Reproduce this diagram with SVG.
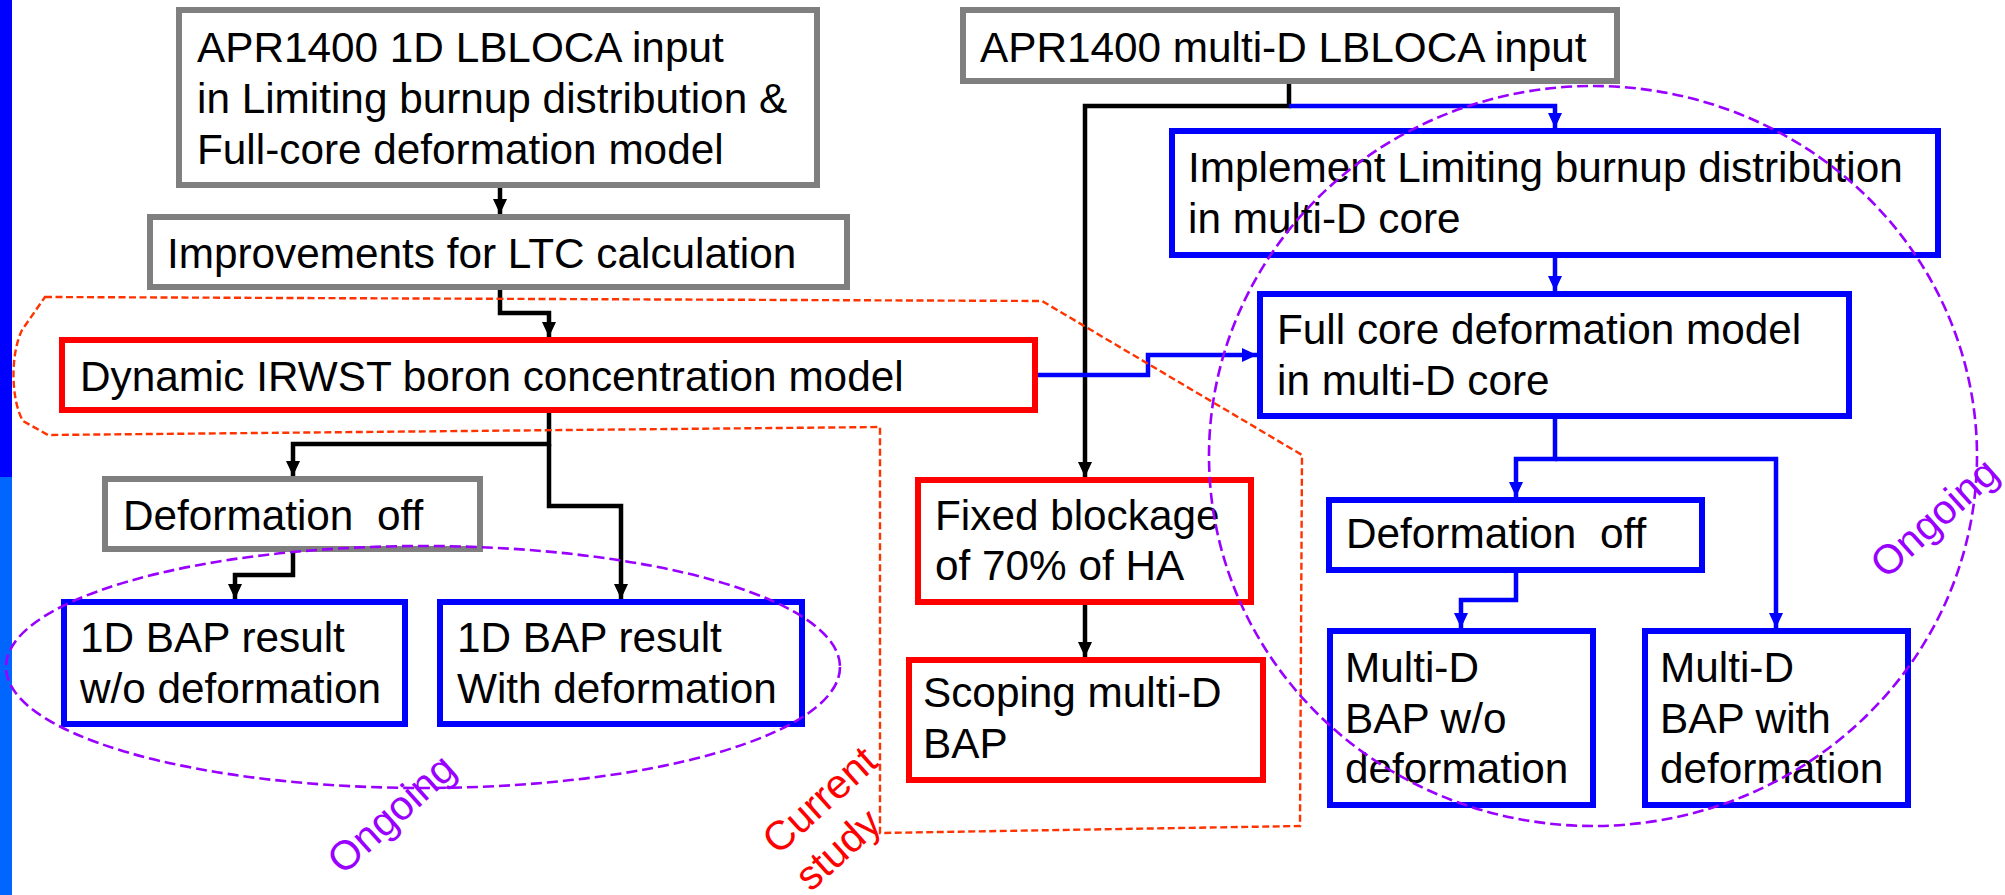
<svg xmlns="http://www.w3.org/2000/svg" width="2005" height="895" viewBox="0 0 2005 895">
<style>
.t{font-family:"Liberation Sans",Arial,sans-serif;font-size:42.3px;fill:#000}
.gray{fill:#fff;stroke:#7f7f7f;stroke-width:6}
.blue{fill:#fff;stroke:#0000ff;stroke-width:6}
.red{fill:#fff;stroke:#ff0000;stroke-width:6}
.ck{fill:none;stroke:#000;stroke-width:4.5;marker-end:url(#ak)}
.cb{fill:none;stroke:#0000ff;stroke-width:4.5;marker-end:url(#ab)}
.pur{fill:none;stroke:#9900ff;stroke-width:2.6;stroke-dasharray:11 5}
.org{fill:none;stroke:#ff3300;stroke-width:2.4;stroke-dasharray:7 3.5}
.lbl{font-family:"Liberation Sans",Arial,sans-serif;font-size:41px}
</style>
<defs>
<marker id="ak" markerUnits="userSpaceOnUse" markerWidth="16" markerHeight="14" refX="15" refY="7" orient="auto"><path d="M0,0 L15,7 L0,14 z" fill="#000"/></marker>
<marker id="ab" markerUnits="userSpaceOnUse" markerWidth="16" markerHeight="14" refX="15" refY="7" orient="auto"><path d="M0,0 L15,7 L0,14 z" fill="#0000ff"/></marker>
</defs>
<rect x="0" y="0" width="2005" height="895" fill="#fff"/>
<rect x="0" y="0" width="12" height="477" fill="#0000ff"/>
<rect x="0" y="477" width="12" height="418" fill="#0066ff"/>

<g id="connectors">
<path class="ck" d="M500,187 L500,214"/>
<path class="ck" d="M500,290 L500,313 L549,313 L549,337"/>
<path class="ck" d="M549,413 L549,444 L293,444 L293,476"/>
<path class="ck" d="M549,444 L549,506 L621,506 L621,599"/>
<path class="ck" d="M293,552 L293,575 L235,575 L235,599"/>
<path class="ck" d="M1289,84 L1289,106 L1085,106 L1085,477"/>
<path class="ck" d="M1085,605 L1085,657"/>
<path class="cb" d="M1289,106 L1555,106 L1555,128"/>
<path class="cb" d="M1555,257 L1555,291"/>
<path class="cb" d="M1038,375 L1148,375 L1148,355 L1257,355"/>
<path class="cb" d="M1555,419 L1555,459 L1516,459 L1516,497"/>
<path class="cb" d="M1555,459 L1776,459 L1776,628"/>
<path class="cb" d="M1516,573 L1516,600 L1461,600 L1461,628"/>
</g>

<g id="n1d-input">
<rect class="gray" x="179" y="10" width="638" height="175"/>
<text class="t" x="197" y="62">APR1400 1D LBLOCA input</text>
<text class="t" x="197" y="113">in Limiting burnup distribution &amp;</text>
<text class="t" x="197" y="164">Full-core deformation model</text>
</g>
<g id="n-ltc">
<rect class="gray" x="150" y="217" width="697" height="70"/>
<text class="t" x="167" y="268">Improvements for LTC calculation</text>
</g>
<g id="n-irwst">
<rect class="red" x="62" y="340" width="973" height="70"/>
<text class="t" x="80" y="391">Dynamic IRWST boron concentration model</text>
</g>
<g id="n-defoff1d">
<rect class="gray" x="105" y="479" width="375" height="70"/>
<text class="t" x="123" y="530" xml:space="preserve">Deformation  off</text>
</g>
<g id="n-1d-wo">
<rect class="blue" x="64" y="602" width="341" height="122"/>
<text class="t" x="80" y="652">1D BAP result</text>
<text class="t" x="80" y="703">w/o deformation</text>
</g>
<g id="n-1d-with">
<rect class="blue" x="440" y="602" width="362" height="122"/>
<text class="t" x="457" y="652">1D BAP result</text>
<text class="t" x="457" y="703">With deformation</text>
</g>
<g id="n-fixed">
<rect class="red" x="918" y="480" width="333" height="122"/>
<text class="t" x="935" y="530">Fixed blockage</text>
<text class="t" x="935" y="580">of 70% of HA</text>
</g>
<g id="n-scoping">
<rect class="red" x="909" y="660" width="354" height="120"/>
<text class="t" x="923" y="707">Scoping multi-D</text>
<text class="t" x="923" y="758">BAP</text>
</g>
<g id="n-md-input">
<rect class="gray" x="963" y="10" width="654" height="71"/>
<text class="t" x="980" y="62">APR1400 multi-D LBLOCA input</text>
</g>
<g id="n-implement">
<rect class="blue" x="1172" y="131" width="766" height="124"/>
<text class="t" x="1188" y="182">Implement Limiting burnup distribution</text>
<text class="t" x="1188" y="233">in multi-D core</text>
</g>
<g id="n-fullcore">
<rect class="blue" x="1260" y="294" width="589" height="122"/>
<text class="t" x="1277" y="344">Full core deformation model</text>
<text class="t" x="1277" y="395">in multi-D core</text>
</g>
<g id="n-defoffmd">
<rect class="blue" x="1329" y="500" width="373" height="70"/>
<text class="t" x="1346" y="548" xml:space="preserve">Deformation  off</text>
</g>
<g id="n-md-wo">
<rect class="blue" x="1330" y="631" width="263" height="174"/>
<text class="t" x="1345" y="682">Multi-D</text>
<text class="t" x="1345" y="733">BAP w/o</text>
<text class="t" x="1345" y="783">deformation</text>
</g>
<g id="n-md-with">
<rect class="blue" x="1645" y="631" width="263" height="174"/>
<text class="t" x="1660" y="682">Multi-D</text>
<text class="t" x="1660" y="733">BAP with</text>
<text class="t" x="1660" y="783">deformation</text>
</g>

<g id="annotations">
<path class="org" d="M45,297 L1042,301 L1302,455 L1300,826 L880,833 L880,427 L48,435 L23,421 C11,400 10,355 22,330 Z"/>
<ellipse class="pur" cx="423" cy="667" rx="417" ry="121"/>
<ellipse class="pur" cx="1593" cy="456" rx="384" ry="370"/>
<text class="lbl" fill="#9900ff" transform="translate(343,876) rotate(-42)">Ongoing</text>
<text class="lbl" fill="#9900ff" transform="translate(1886,580) rotate(-42)">Ongoing</text>
<text class="lbl" fill="#ff0000" transform="translate(778,856) rotate(-42)"><tspan x="0" y="0">Current</tspan><tspan x="0" y="49">study</tspan></text>
</g>
</svg>
